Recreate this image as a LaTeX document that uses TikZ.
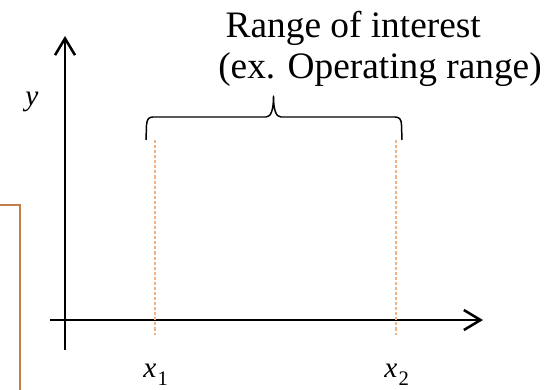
\documentclass[tikz,border=0pt]{standalone}
\usepackage{fontspec}
\setmainfont{Liberation Serif}
\usepackage{xcolor}
\usepackage{tikz}
\usetikzlibrary{arrows.meta, positioning}

\definecolor{framebrown}{RGB}{193,126,75}
\definecolor{rangeorange}{RGB}{244,177,131}

\newcommand{\varsub}[2]{\textit{#1}\kern1pt\raisebox{-6pt}{\fontsize{15.5}{15.5}\selectfont #2}}

\begin{document}
\begin{tikzpicture}[x=0.75pt, y=-0.75pt,
        axis/.style={line width=1.9pt, -{Straight Barb[length=12.5pt, width=15pt]}},
        bound/.style={rangeorange, line width=1.1pt, dash pattern=on 2.3pt off 1.5pt},
        bracket/.style={line width=1.1pt, line join=round},
        label/.style={font=\fontsize{22}{22}\selectfont, inner sep=0pt, anchor=base west}
    ]
        \clip (0,0) rectangle (560,389);

        % frame of the neighbouring panel
        \draw[framebrown, line width=2.2pt] (-200,205) rectangle (20,600);

        % Axes
        \coordinate (ybot) at (65,350);
        \coordinate (ytop) at (65,36);
        \coordinate (xleft) at (50,320);
        \coordinate (xright) at (483,320);
        \draw[axis] (ybot) -- (ytop);
        \draw[axis] (xleft) -- (xright);

        \node[label] (ylab) at (25,105) {\textit{y}};
        \node[label] (x1lab) at (143,377) {\varsub{x}{1}};
        \node[label] (x2lab) at (384,377) {\varsub{x}{2}};

        % Range bounds
        \coordinate (lo) at (155,140);
        \coordinate (hi) at (396,140);
        \draw[bound] (lo) -- (155,335);
        \draw[bound] (hi) -- (396,335);

        % Brace over the range
        \coordinate (bl) at (146,140);
        \coordinate (br) at (402,140);
        \coordinate (tip) at (273.5,96);
        \draw[bracket] (bl) -- (146.5,125) .. controls (147,119) and (149,117) .. (153,117)
            -- (266,117) .. controls (271,117) and (273.5,110) .. (tip)
            .. controls (273.5,110) and (276,117) .. (281,117)
            -- (395,117) .. controls (399,117) and (401.5,119) .. (401.5,125) -- (br);

        \node[inner sep=0pt, anchor=base west, align=left,
              font=\fontsize{28}{30.75}\selectfont] (title) at (218,78)
            {\hspace*{0.2em}Range of interest\\(ex. Operating range)};
    \end{tikzpicture}
\end{document}
